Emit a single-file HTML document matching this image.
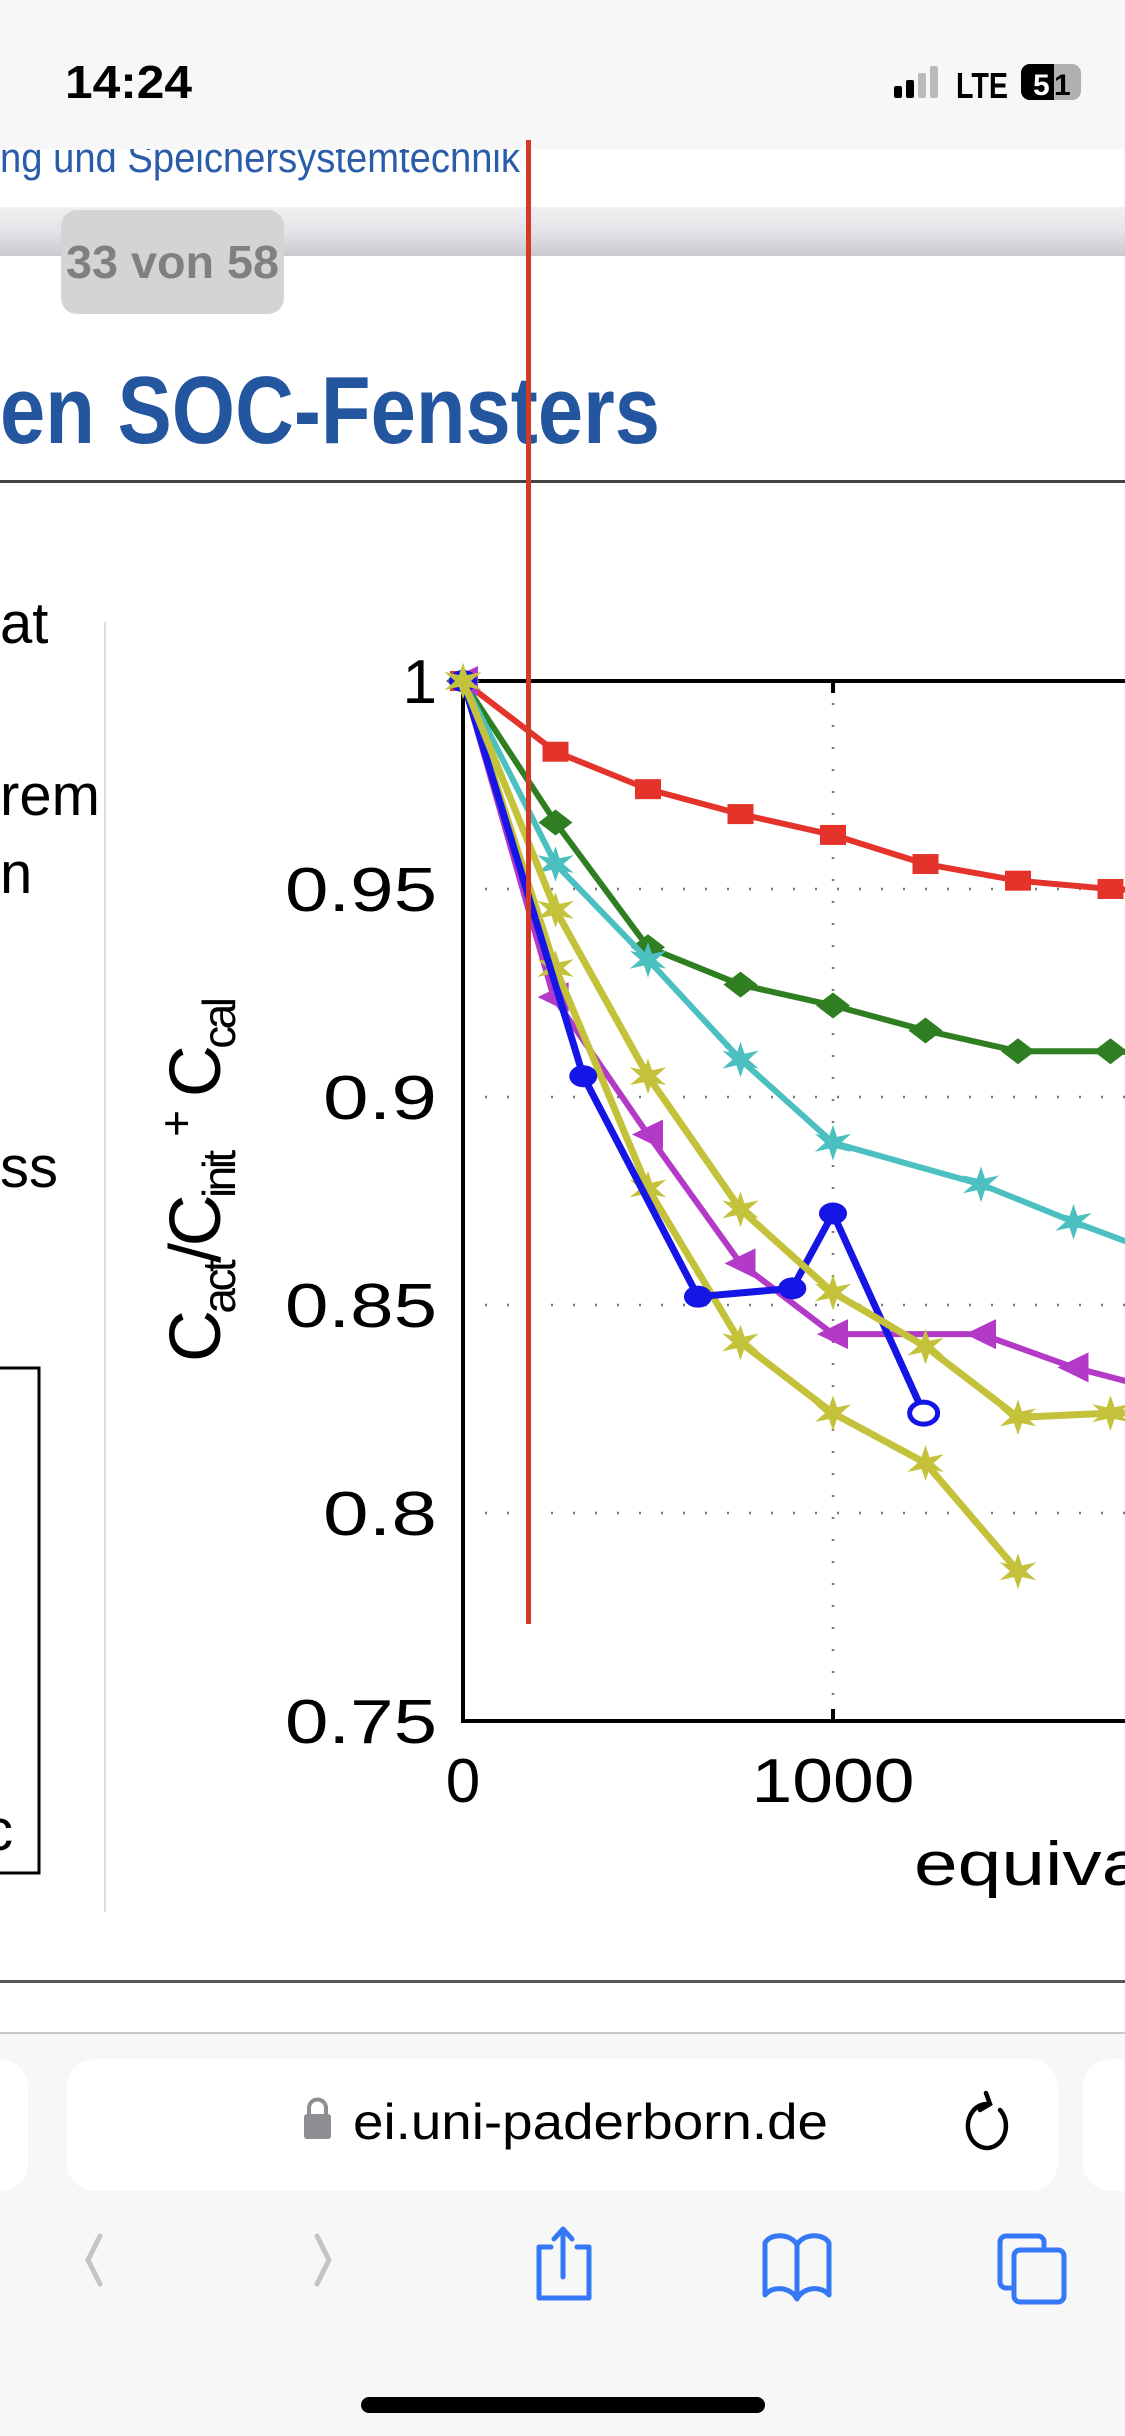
<!DOCTYPE html>
<html><head><meta charset="utf-8"><style>
html,body{margin:0;padding:0;width:1125px;height:2436px;overflow:hidden;background:#fff}
svg{display:block}
text{font-family:"Liberation Sans",sans-serif}
</style></head><body>
<svg id="s" width="1125" height="2436" viewBox="0 0 1125 2436" xmlns="http://www.w3.org/2000/svg">
<text x="0" y="172" font-size="42" fill="#2a5caa" textLength="520" lengthAdjust="spacingAndGlyphs">ng und Speichersystemtechnik</text>
<rect x="0" y="0" width="1125" height="149" fill="#f7f7f7"/>
<text x="65" y="98" font-size="46" font-weight="bold" textLength="127" lengthAdjust="spacingAndGlyphs">14:24</text>
<g><rect x="894" y="86" width="8" height="12" rx="2" fill="#000"/><rect x="906" y="80" width="8" height="18" rx="2" fill="#000"/><rect x="918" y="73" width="8" height="25" rx="2" fill="#bbb"/><rect x="930" y="66" width="8" height="32" rx="2" fill="#bbb"/></g>
<text x="956" y="98" font-size="36" font-weight="bold" textLength="52" lengthAdjust="spacingAndGlyphs">LTE</text>
<g><rect x="1021" y="64" width="60" height="36" rx="9" fill="#b0b0b0"/><path d="M1030 64 h24 v36 h-24 a9 9 0 0 1 -9 -9 v-18 a9 9 0 0 1 9 -9z" fill="#000"/><text x="1033" y="95" font-size="30" font-weight="bold" fill="#fff">5</text><text x="1054" y="95" font-size="30" font-weight="bold" fill="#000">1</text></g>
<defs><linearGradient id="tb" x1="0" y1="0" x2="0" y2="1"><stop offset="0" stop-color="#f0f0f2"/><stop offset="0.5" stop-color="#e4e4e8"/><stop offset="1" stop-color="#c9c9ce"/></linearGradient></defs>
<rect x="0" y="207" width="1125" height="49" fill="url(#tb)"/>
<rect x="61" y="210" width="223" height="104" rx="16" fill="#d4d4d4"/>
<text x="66" y="278" font-size="46" font-weight="bold" fill="#808080" textLength="213" lengthAdjust="spacingAndGlyphs">33 von 58</text>
<text x="0" y="443" font-size="96" font-weight="bold" fill="#2456a0" textLength="660" lengthAdjust="spacingAndGlyphs">en SOC-Fensters</text>
<rect x="0" y="480" width="1125" height="3" fill="#444"/>
<g font-size="58" fill="#000">
<text x="0" y="643">at</text><text x="0" y="815">rem</text><text x="0" y="893">n</text><text x="0" y="1187">ss</text><text x="-16" y="1850">c</text></g>
<rect x="104" y="622" width="2" height="1290" fill="#ddd"/>
<rect x="-10" y="1368" width="49" height="505" fill="none" stroke="#000" stroke-width="3"/>
<g id="chart"></g>
<rect x="0" y="1980" width="1125" height="3" fill="#555"/>
<rect x="0" y="2032" width="1125" height="404" fill="#f7f7f7"/>
<rect x="0" y="2032" width="1125" height="2" fill="#c8c8cc"/>
<rect x="-40" y="2059" width="68" height="132" rx="28" fill="#fff"/>
<rect x="67" y="2059" width="991" height="132" rx="28" fill="#fff"/>
<rect x="1083" y="2059" width="80" height="132" rx="28" fill="#fff"/>
<g><rect x="304" y="2114" width="27" height="25" rx="3" fill="#8e8e93"/><path d="M309 2116 v-8 a8.5 8.5 0 0 1 17 0 v8" fill="none" stroke="#8e8e93" stroke-width="4"/></g>
<text x="353" y="2139" font-size="50" fill="#000" textLength="475" lengthAdjust="spacingAndGlyphs">ei.uni-paderborn.de</text>
<g fill="none" stroke="#000" stroke-width="4.5" stroke-linecap="round"><path d="M1000 2110 a19 22 0 1 1 -12 -6"/><path d="M986 2093 l4 11 -10 6"/></g>
<path d="M100 2236 l-12 24 12 24" fill="none" stroke="#c4c4c4" stroke-width="5" stroke-linecap="round" stroke-linejoin="round"/>
<path d="M317 2236 l12 24 -12 24" fill="none" stroke="#c4c4c4" stroke-width="5" stroke-linecap="round" stroke-linejoin="round"/>
<g fill="none" stroke="#3478f6" stroke-width="5" stroke-linecap="round" stroke-linejoin="round"><path d="M551 2247 h-12 v51 h50 v-51 h-12"/><path d="M563 2277 v-47 M554 2239 l9 -10 9 10"/></g>
<g fill="none" stroke="#3478f6" stroke-width="5" stroke-linejoin="round"><path d="M797 2245 c-6 -12 -27 -12 -32 -2 v52 c8 -10 26 -8 32 4 c6 -12 24 -14 32 -4 v-52 c-5 -10 -26 -10 -32 2z M797 2245 v54"/></g>
<g fill="none" stroke="#3478f6" stroke-width="5"><rect x="1000" y="2236" width="44" height="52" rx="6"/><rect x="1014" y="2250" width="50" height="52" rx="6" fill="#f7f7f7"/></g>
<rect x="361" y="2397" width="404" height="16" rx="8" fill="#000"/>
<rect x="526" y="140" width="5" height="1484" fill="#d33a26"/>
</svg>
<script>
const xValsA=[0,250,500,750,1000,1250,1500,1750,2000];
const redVals=[1,0.983,0.974,0.968,0.963,0.956,0.952,0.950,0.949];
const greenVals=[1,0.966,0.936,0.927,0.922,0.916,0.911,0.911,0.910];
const cyanX=[0,250,500,750,1000,1400,1650,1950];
const cyanVals=[1,0.956,0.933,0.909,0.889,0.879,0.870,0.860];
const blueX=[0,325,635,890,1000,1245];
const blueVals=[1,0.905,0.852,0.854,0.872,0.824];
const purpleX=[0,245,500,750,1000,1400,1650,1950];
const purpleVals=[1,0.924,0.891,0.860,0.843,0.843,0.835,0.828];
const yellowAX=[0,250,500,750,1000,1250,1500,1750,2000];
const yellowAVals=[1,0.945,0.905,0.873,0.853,0.840,0.823,0.824,0.824];
const yellowBX=[0,250,500,750,1000,1250,1500];
const yellowBVals=[1,0.931,0.878,0.841,0.824,0.812,0.786];
const yTicks=[0.75,0.8,0.85,0.9,0.95,1];
const yTickLabels=["0.75","0.8","0.85","0.9","0.95","1"];
const xTicks=[0,1000,2000];
const xTickLabels=["0","1000","2000"];

const NS="http://www.w3.org/2000/svg";
const g=document.getElementById('chart');
const X0=463,PX=0.37,Y1=681,PY=4160;
const sx=v=>X0+v*PX;
const sy=v=>Y1+(1-v)*PY;
function el(t,a,p){const e=document.createElementNS(NS,t);for(const k in a)e.setAttribute(k,a[k]);(p||g).appendChild(e);return e;}
const defs=el('defs',{});
const cp=el('clipPath',{id:'pc'},defs);
el('rect',{x:440,y:600,width:685,height:1140},cp);
yTicks.forEach(t=>{if(t>0.75&&t<1){const l=el('line',{x1:X0,x2:1125,y1:sy(t),y2:sy(t),stroke:'#777','stroke-width':2.5,'stroke-dasharray':'2 20'});

}});
xTicks.forEach(t=>{if(t>0){const l=el('line',{x1:sx(t),x2:sx(t),y1:Y1,y2:sy(0.75),stroke:'#777','stroke-width':2.5,'stroke-dasharray':'2 20'});

}});
const ax=el('path',{d:`M1125 ${Y1} H${X0} V${sy(0.75)} H1125`,fill:'none',stroke:'#000','stroke-width':4});


xTicks.forEach(t=>{const l=el('line',{x1:sx(t),x2:sx(t),y1:Y1,y2:Y1+12,stroke:'#000','stroke-width':4});


const l2=el('line',{x1:sx(t),x2:sx(t),y1:sy(0.75),y2:sy(0.75)-12,stroke:'#000','stroke-width':4});

});
yTicks.forEach((t,i)=>{const tx=el('text',{x:437,y:sy(t)+22,'font-size':62,'text-anchor':'end'});tx.textContent=yTickLabels[i];
if(yTickLabels[i].length>1){tx.setAttribute('textLength',yTickLabels[i].length*38);tx.setAttribute('lengthAdjust','spacingAndGlyphs');}

});
xTicks.forEach((t,i)=>{const tx=el('text',{x:sx(t),y:1802,'font-size':62,'text-anchor':'middle'});tx.textContent=xTickLabels[i];
if(xTickLabels[i].length>1){tx.setAttribute('textLength',163);tx.setAttribute('lengthAdjust','spacingAndGlyphs');}

});
const xl=el('text',{x:914,y:1885,'font-size':62});xl.textContent='equivalent full cycles';
xl.setAttribute('textLength',720);
xl.setAttribute('lengthAdjust','spacingAndGlyphs');


const yl=el('text',{transform:'translate(220,1362) rotate(-90)','font-size':72});
yl.innerHTML='C<tspan font-size="46" dy="15">act</tspan><tspan dy="-15">/C</tspan><tspan font-size="46" dy="15">init</tspan><tspan dy="-15"> </tspan><tspan font-size="46" dy="-28">+</tspan><tspan dy="28"> C</tspan><tspan font-size="46" dy="15">cal</tspan>';
yl.setAttribute('textLength',365);


function marker(type,x,y,c,grp,open){
 let e;
 if(type==='sq')e=el('rect',{x:x-13,y:y-10,width:26,height:20,fill:c},grp);
 else if(type==='dia')e=el('path',{d:`M${x-17} ${y} L${x} ${y-13} L${x+17} ${y} L${x} ${y+13}Z`,fill:c},grp);
 else if(type==='circ')e=el('ellipse',{cx:x,cy:y,rx:14,ry:11,fill:open?'#fff':c,stroke:c,'stroke-width':open?5:0},grp);
 else if(type==='tri')e=el('path',{d:`M${x-16} ${y} L${x+15} ${y-15} L${x+15} ${y+15}Z`,fill:c},grp);
 else {let d='';for(let k=0;k<12;k++){const r=k%2?8:21;const a=-Math.PI/2+k*Math.PI/6;d+=(k?'L':'M')+(x+r*Math.cos(a)).toFixed(1)+' '+(y+r*Math.sin(a)*0.85).toFixed(1);}e=el('path',{d:d+'Z',fill:c},grp);}
 
 
}
function series(name,xs,ys,c,type,w){
 const grp=el('g',{'clip-path':'url(#pc)'});
 
 
 const p=el('polyline',{points:xs.map((x,i)=>sx(x)+','+sy(ys[i])).join(' '),fill:'none',stroke:c,'stroke-width':w,'stroke-linejoin':'round'},grp);
 
 
 xs.forEach((x,i)=>marker(type,sx(x),sy(ys[i]),c,grp,name==='series-blue'&&i===xs.length-1));
}
series('series-red',xValsA,redVals,'#e3332a','sq',6);
series('series-green',xValsA,greenVals,'#2f7f22','dia',6);
series('series-cyan',cyanX,cyanVals,'#4cc0c0','star',6);
series('series-purple',purpleX,purpleVals,'#b23ac6','tri',6);
series('series-yellow-b',yellowBX,yellowBVals,'#c4c23a','star',7);
series('series-blue',blueX,blueVals,'#1515e6','circ',7);
series('series-yellow-a',yellowAX,yellowAVals,'#c4c23a','star',7);
</script>
</body></html>
